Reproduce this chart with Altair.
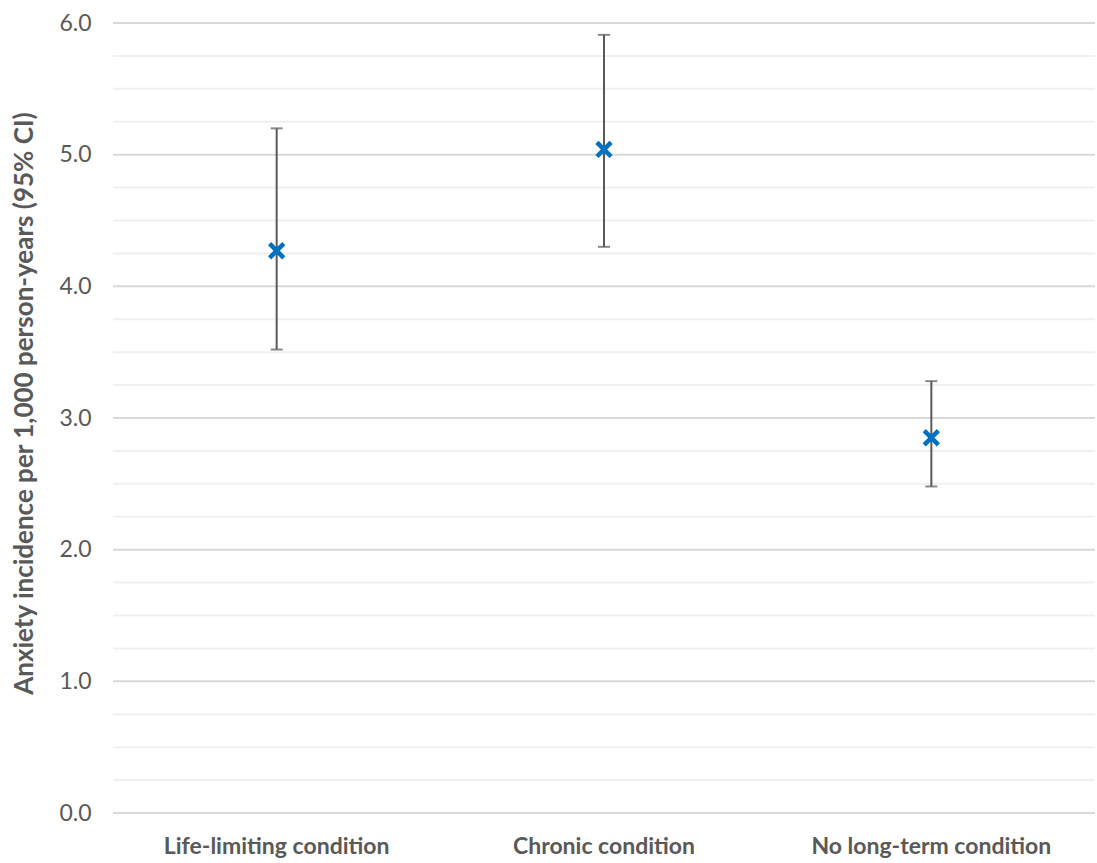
import altair as alt
import pandas as pd

# Anxiety incidence per 1,000 person-years with 95% confidence intervals
groups = ["Life-limiting condition", "Chronic condition", "No long-term condition"]
incidence = [4.27, 5.04, 2.85]
ci_lower = [3.52, 4.30, 2.48]
ci_upper = [5.20, 5.91, 3.28]

# gridlines every 0.25, with the whole numbers drawn darker
grid_values = [i * 0.25 for i in range(25)]

df = pd.DataFrame({
    "group": groups,
    "rate": incidence,
    "lo": ci_lower,
    "hi": ci_upper,
})
grid_df = pd.DataFrame({
    "v": grid_values,
    "major": [v % 1 == 0 for v in grid_values],
})

FONT = "Lato"
TEXT = "#595959"
BLUE = "#0070C0"
WHISKER = "#595959"

y_scale = alt.Scale(domain=[0, 6], nice=False)

x_enc = alt.X(
    "group:N",
    sort=groups,
    title=None,
    scale=alt.Scale(paddingInner=0, paddingOuter=0),
    axis=alt.Axis(
        labelAngle=0,
        labelFont=FONT,
        labelFontSize=23,
        labelFontWeight="bold",
        labelColor=TEXT,
        labelPadding=22,
        labelLimit=0,
        ticks=False,
        domain=False,
        grid=False,
    ),
)

y_axis = alt.Axis(
    values=list(range(7)),
    format=".1f",
    labelFont=FONT,
    labelFontSize=23,
    labelColor=TEXT,
    labelPadding=22,
    ticks=False,
    domain=False,
    grid=False,
    title="Anxiety incidence per 1,000 person-years (95% CI)",
    titleFont=FONT,
    titleFontSize=26,
    titleFontWeight="bold",
    titleColor=TEXT,
    titleX=-89,
    titleY=380,
    titleBaseline="middle",
)

gridlines = alt.Chart(grid_df).mark_rule(strokeWidth=2).encode(
    y=alt.Y("v:Q", scale=y_scale, axis=y_axis),
    color=alt.condition("datum.major", alt.value("#d9d9d9"), alt.value("#f0f0f0")),
)

base = alt.Chart(df)

whiskers = base.mark_rule(color=WHISKER, strokeWidth=2).encode(
    x=x_enc,
    y=alt.Y("lo:Q", scale=y_scale),
    y2="hi:Q",
)

caps_hi = base.mark_tick(color=WHISKER, thickness=2, size=12).encode(
    x=alt.X("group:N", sort=groups),
    y=alt.Y("hi:Q", scale=y_scale),
)
caps_lo = base.mark_tick(color=WHISKER, thickness=2, size=12).encode(
    x=alt.X("group:N", sort=groups),
    y=alt.Y("lo:Q", scale=y_scale),
)

points = base.mark_point(
    shape="M-1,-1L1,1M-1,1L1,-1",
    filled=False,
    stroke=BLUE,
    strokeWidth=4.5,
    strokeCap="butt",
    size=200,
    opacity=1,
).encode(
    x=alt.X("group:N", sort=groups),
    y=alt.Y("rate:Q", scale=y_scale),
)

chart = (
    alt.layer(gridlines, whiskers, caps_hi, caps_lo, points)
    .properties(
        width=982,
        height=790,
        autosize=alt.AutoSizeParams(type="none"),
        padding={"left": 113, "top": 23, "right": 2, "bottom": 50},
        background="white",
    )
    .configure_view(stroke=None)
)

chart.save("out.html", embed_options={"renderer": "svg", "actions": False})
